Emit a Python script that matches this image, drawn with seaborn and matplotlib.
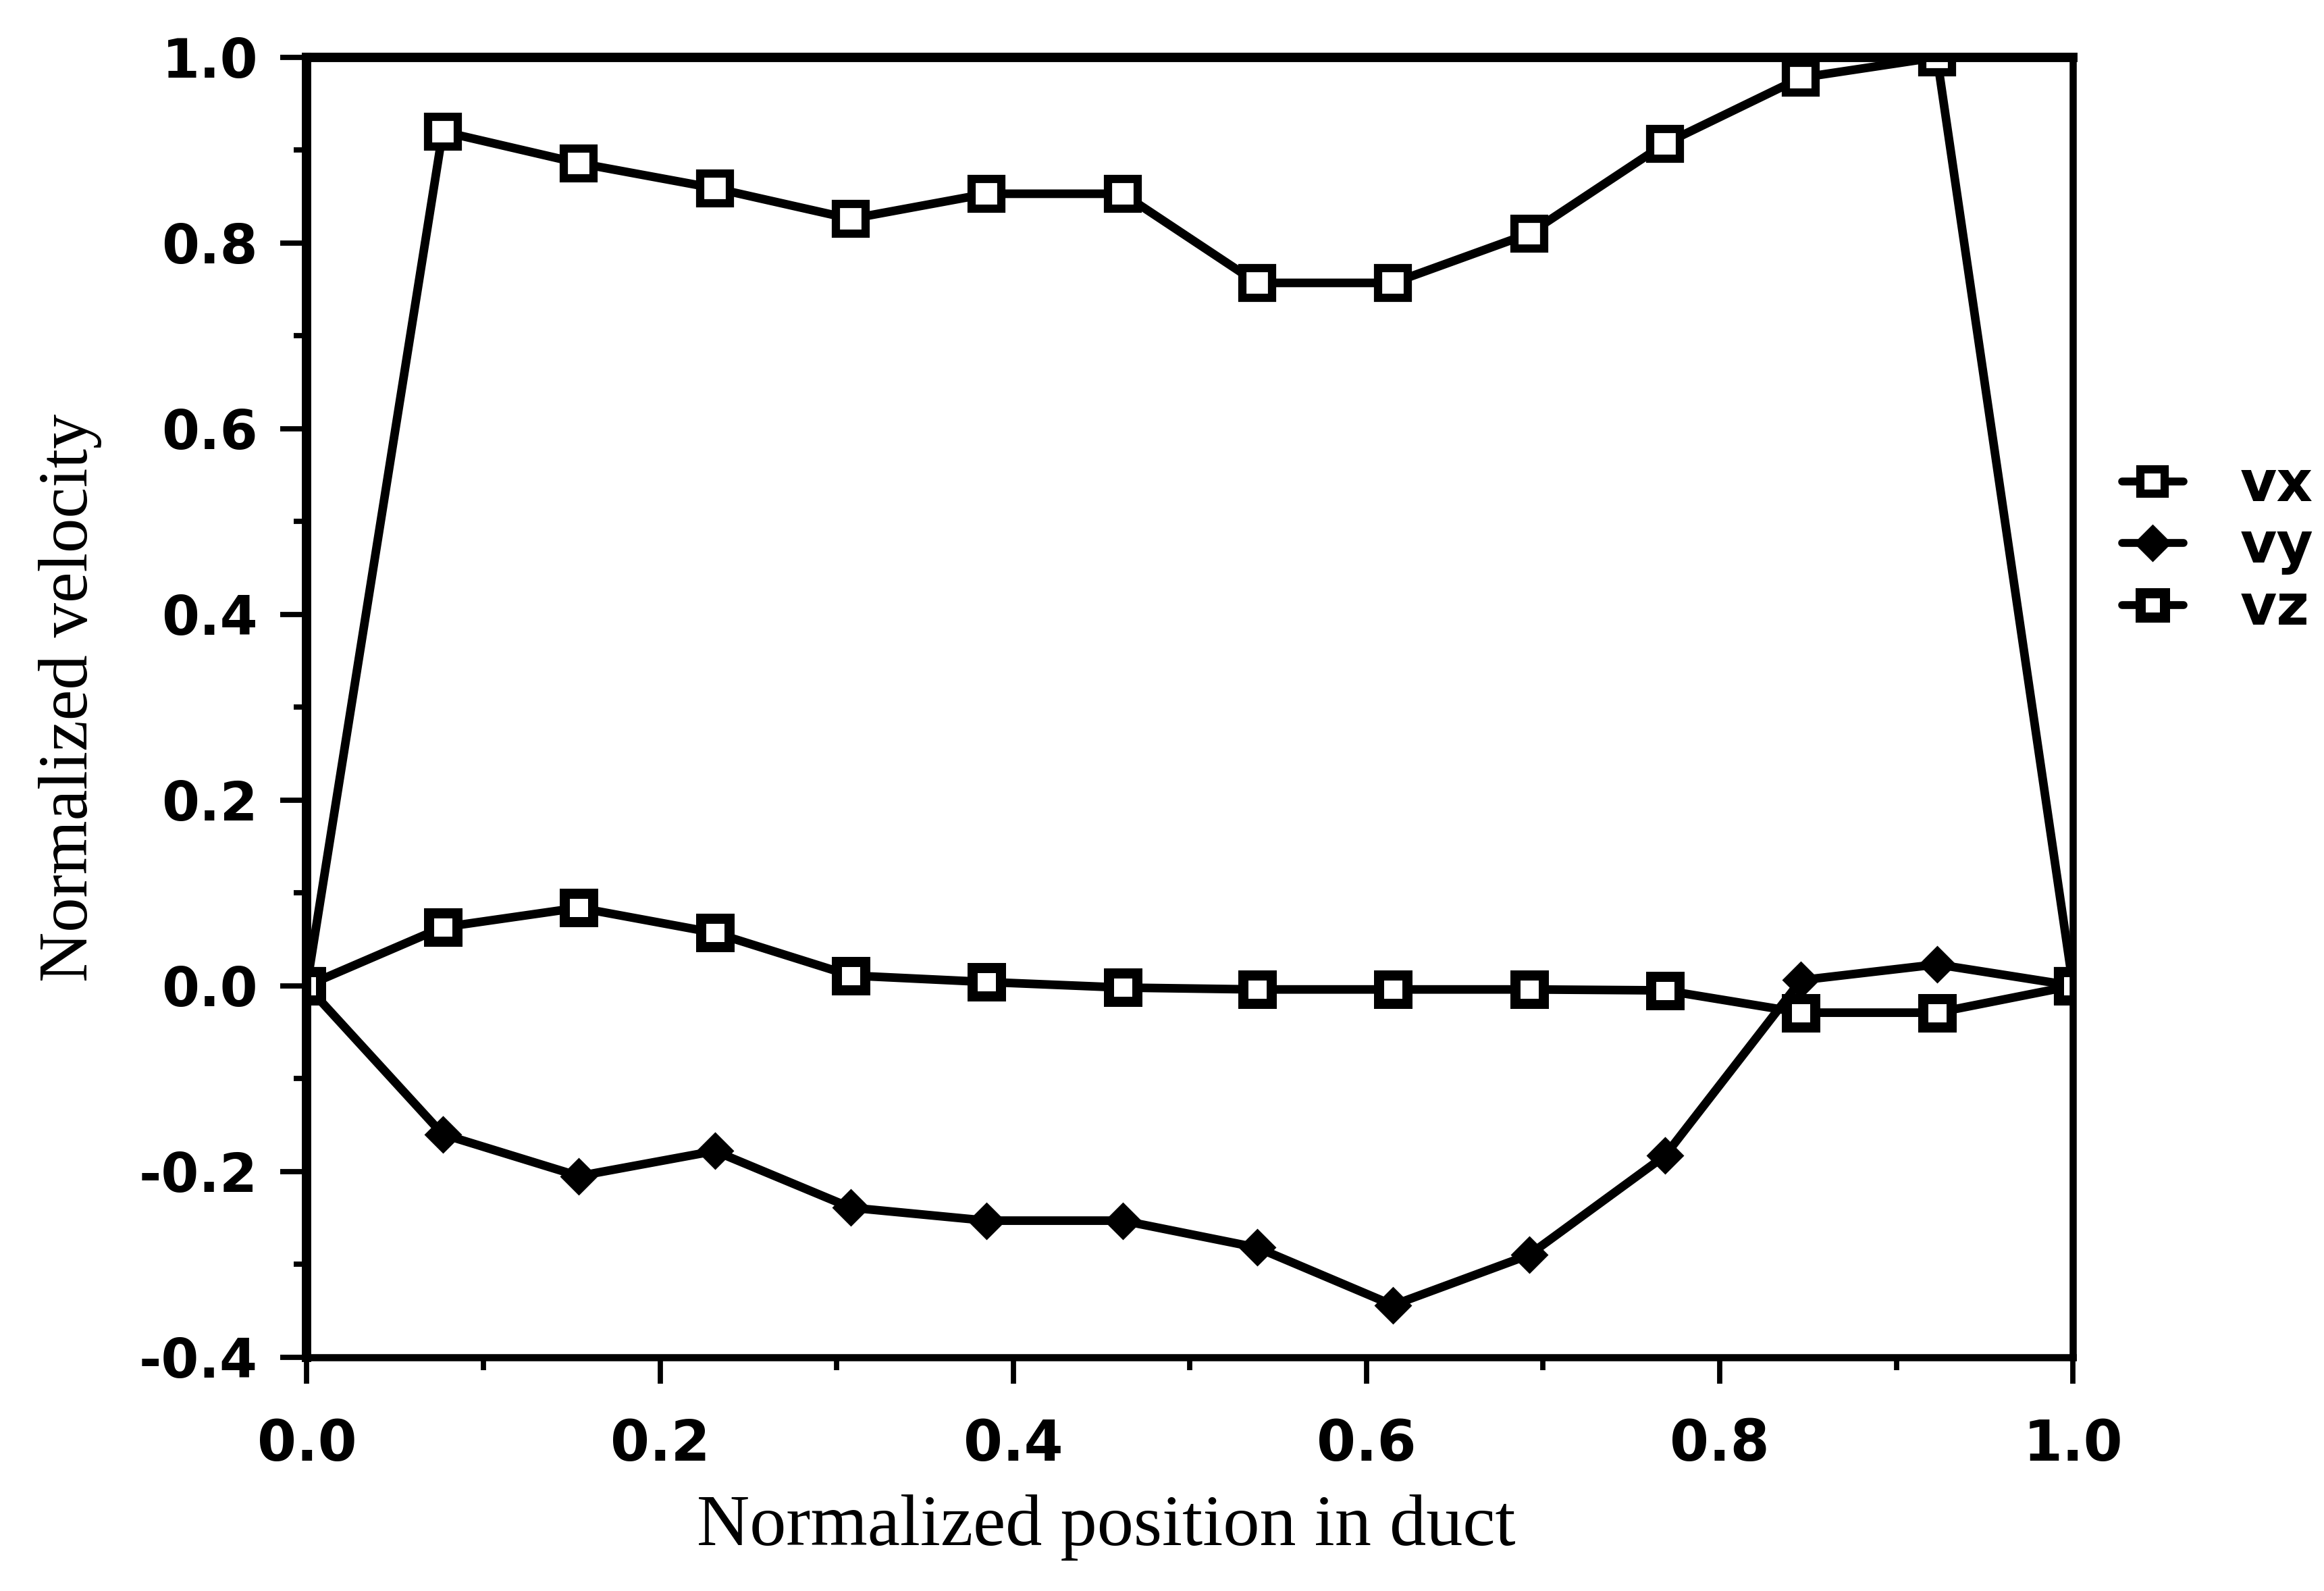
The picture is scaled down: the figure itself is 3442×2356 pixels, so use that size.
import numpy as np
import pandas as pd
import matplotlib
matplotlib.use("Agg")
import matplotlib.pyplot as plt
import seaborn as sns
from matplotlib.ticker import MultipleLocator

position = [0.0, 0.077, 0.154, 0.231, 0.308, 0.385, 0.462, 0.538, 0.615, 0.692, 0.769, 0.846, 0.923, 1.0]
vx = [0.0, 0.92, 0.886, 0.859, 0.826, 0.853, 0.853, 0.757, 0.757, 0.81, 0.907, 0.978, 1.0, 0.0]
vy = [0.0, -0.16, -0.205, -0.178, -0.239, -0.253, -0.253, -0.282, -0.344, -0.29, -0.183, 0.006, 0.023, 0.0]
vz = [0.0, 0.063, 0.084, 0.057, 0.011, 0.004, -0.002, -0.004, -0.004, -0.004, -0.005, -0.029, -0.029, 0.0]

x_ticks = [0.0, 0.2, 0.4, 0.6, 0.8, 1.0]
y_ticks = [-0.4, -0.2, 0.0, 0.2, 0.4, 0.6, 0.8, 1.0]

df = pd.DataFrame({"position": position, "vx": vx, "vy": vy, "vz": vz})

sns.set_theme(style="white")
plt.rcParams['font.family'] = ['DejaVu Sans']
plt.rcParams['text.color'] = 'black'
plt.rcParams['axes.labelcolor'] = 'black'
plt.rcParams['xtick.color'] = 'black'
plt.rcParams['ytick.color'] = 'black'

fig = plt.figure(figsize=(17.21, 11.78), dpi=200)
ax = fig.add_axes([0.132, 0.147, 0.760, 0.817])

lw = 4.6
sns.lineplot(data=df, x="position", y="vx", ax=ax, color="black", linewidth=lw,
             marker="s", markersize=16, markerfacecolor="white", markeredgecolor="black",
             markeredgewidth=4.4, label="vx")
sns.lineplot(data=df, x="position", y="vy", ax=ax, color="black", linewidth=lw,
             marker="D", markersize=13, markerfacecolor="black", markeredgecolor="black",
             markeredgewidth=1, label="vy")
sns.lineplot(data=df, x="position", y="vz", ax=ax, color="black", linewidth=lw,
             marker="s", markersize=15, markerfacecolor="white", markeredgecolor="black",
             markeredgewidth=5.4, label="vz")

ax.set_xlim(0.0, 1.0)
ax.set_ylim(-0.4, 1.0)
ax.set_xticks(x_ticks)
ax.set_yticks(y_ticks)
ax.xaxis.set_minor_locator(MultipleLocator(0.1))
ax.yaxis.set_minor_locator(MultipleLocator(0.1))
ax.set_xticklabels([f"{t:.1f}" for t in x_ticks], fontsize=30, fontweight="bold")
ax.set_yticklabels([f"{t:.1f}" for t in y_ticks], fontsize=29, fontweight="bold")
ax.tick_params(axis="both", which="major", direction="out", length=14, width=2.8,
               pad=12, bottom=True, left=True)
ax.tick_params(axis="both", which="minor", direction="out", length=7, width=2.8,
               bottom=True, left=True)
ax.tick_params(axis="x", which="major", pad=18)

for side in ["left", "top"]:
    ax.spines[side].set_linewidth(5)
for side in ["right", "bottom"]:
    ax.spines[side].set_linewidth(3.8)
for s in ax.spines.values():
    s.set_color("black")
    s.set_visible(True)

serif = ["Liberation Serif", "DejaVu Serif"]
ax.set_xlabel("Normalized position in duct", fontsize=39, family=serif, labelpad=12)
ax.xaxis.label.set_x(0.4525)
ax.set_ylabel("Normalized velocity", fontsize=37, family=serif, labelpad=20)
ax.yaxis.label.set_y(0.507)
ax.grid(False)

leg = ax.legend(loc="center left", bbox_to_anchor=(0.913, 0.656), bbox_transform=fig.transFigure,
                frameon=False, borderpad=0, borderaxespad=0,
                handlelength=1.1, handletextpad=1.0, labelspacing=0.12,
                prop={"weight": "bold", "size": 30})
for h in leg.legend_handles:
    h.set_markersize(13)
    h.set_linewidth(4.2)

fig.savefig("out.png", dpi=200, facecolor="white")
